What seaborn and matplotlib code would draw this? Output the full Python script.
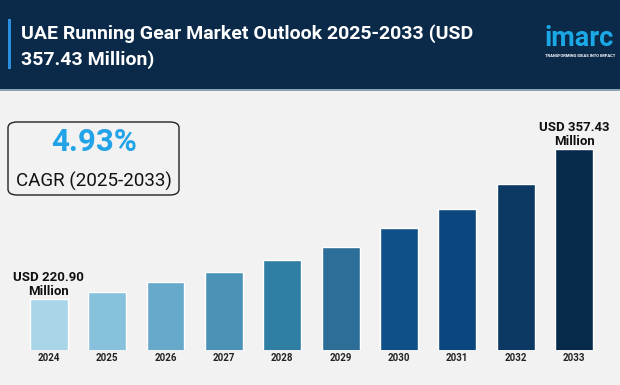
import matplotlib
matplotlib.use("Agg")
import matplotlib.pyplot as plt
from matplotlib.patches import Rectangle, FancyBboxPatch
import seaborn as sns

# data (USD million)
years = ["2024", "2025", "2026", "2027", "2028", "2029", "2030", "2031", "2032", "2033"]
values = [220.90, 227.0, 236.1, 245.5, 256.5, 268.6, 285.7, 303.3, 326.1, 357.43]
bar_colors = ["#a8d5e7", "#88c1dc", "#66a9ca", "#4b93b6", "#2f7ea3",
              "#2c6e97", "#0f5187", "#0c467e", "#0b3963", "#082a4a"]

title = "UAE Running Gear Market Outlook 2025-2033 (USD\n357.43 Million)"
cagr = "4.93%"
cagr_label = "CAGR (2025-2033)"
first_label = "USD 220.90\nMillion"
last_label = "USD 357.43\nMillion"

W, H = 620, 385
sns.set_style("white")
plt.rcParams["font.family"] = ["Roboto", "DejaVu Sans"]

fig = plt.figure(figsize=(6.2, 3.85), dpi=100, facecolor="#f2f2f2")

# header band
fig.patches.append(Rectangle((0, 1 - 89 / H), 1, 89 / H, transform=fig.transFigure,
                             facecolor="#0b2a4a", edgecolor="none", zorder=0))
fig.patches.append(Rectangle((0, 1 - 91 / H), 1, 2 / H, transform=fig.transFigure,
                             facecolor="#8aa3b5", edgecolor="none", zorder=0))
fig.patches.append(Rectangle((8 / W, 1 - 69 / H), 3 / W, 50 / H, transform=fig.transFigure,
                             facecolor="#2b8fe0", edgecolor="none", zorder=1))
fig.text(21 / W, 1 - 47 / H, title, color="white", fontsize=14, fontweight="bold",
         va="center", ha="left", linespacing=1.5)

# logo
fig.text(544 / W, 1 - 38 / H, "imarc", color="#1aa9e6", fontsize=19.5, fontweight="bold",
         va="center", ha="left")
fig.text(545 / W, 1 - 56 / H, "TRANSFORMING IDEAS INTO IMPACT", color="white", fontsize=3.0,
         fontweight="bold", va="center", ha="left")

# CAGR box
fig.patches.append(FancyBboxPatch((8 / W, 1 - 195 / H), 171 / W, 73 / H,
                                  boxstyle="round,pad=0,rounding_size=0.015",
                                  transform=fig.transFigure, facecolor="#f2f2f2",
                                  edgecolor="#222222", linewidth=1.0))
fig.text(94 / W, 1 - 142 / H, cagr, color="#22a3e8", fontsize=22.5, fontweight="bold",
         ha="center", va="center")
fig.text(94 / W, 1 - 181 / H, cagr_label, color="#111111", fontsize=13.5,
         ha="center", va="center")

# bars
ax = fig.add_axes([19.6 / W, 35 / H, 583.6 / W, 250 / H])
ax.patch.set_alpha(0)
sns.barplot(x=years, y=values, hue=years, palette=bar_colors, legend=False,
            width=0.65, saturation=1, ax=ax)
ax.set_ylim(174.4, 174.4 + 228)
ax.set_xlim(-0.5, len(years) - 0.5)
for s in ax.spines.values():
    s.set_visible(False)
ax.set_yticks([])
ax.set_xlabel("")
ax.set_ylabel("")
ax.tick_params(axis="x", length=0, pad=2)
for t in ax.get_xticklabels():
    t.set_fontsize(7)
    t.set_fontweight("bold")
    t.set_color("#222222")

ax.annotate(first_label, (0, values[0]), xytext=(0, 1), textcoords="offset points",
            ha="center", va="bottom", fontsize=9.5, fontweight="bold", color="#111111",
            linespacing=1.05)
ax.annotate(last_label, (len(years) - 1, values[-1]), xytext=(0, 1), textcoords="offset points",
            ha="center", va="bottom", fontsize=9.5, fontweight="bold", color="#111111",
            linespacing=1.05)

fig.savefig("out.png", dpi=100, facecolor=fig.get_facecolor())
